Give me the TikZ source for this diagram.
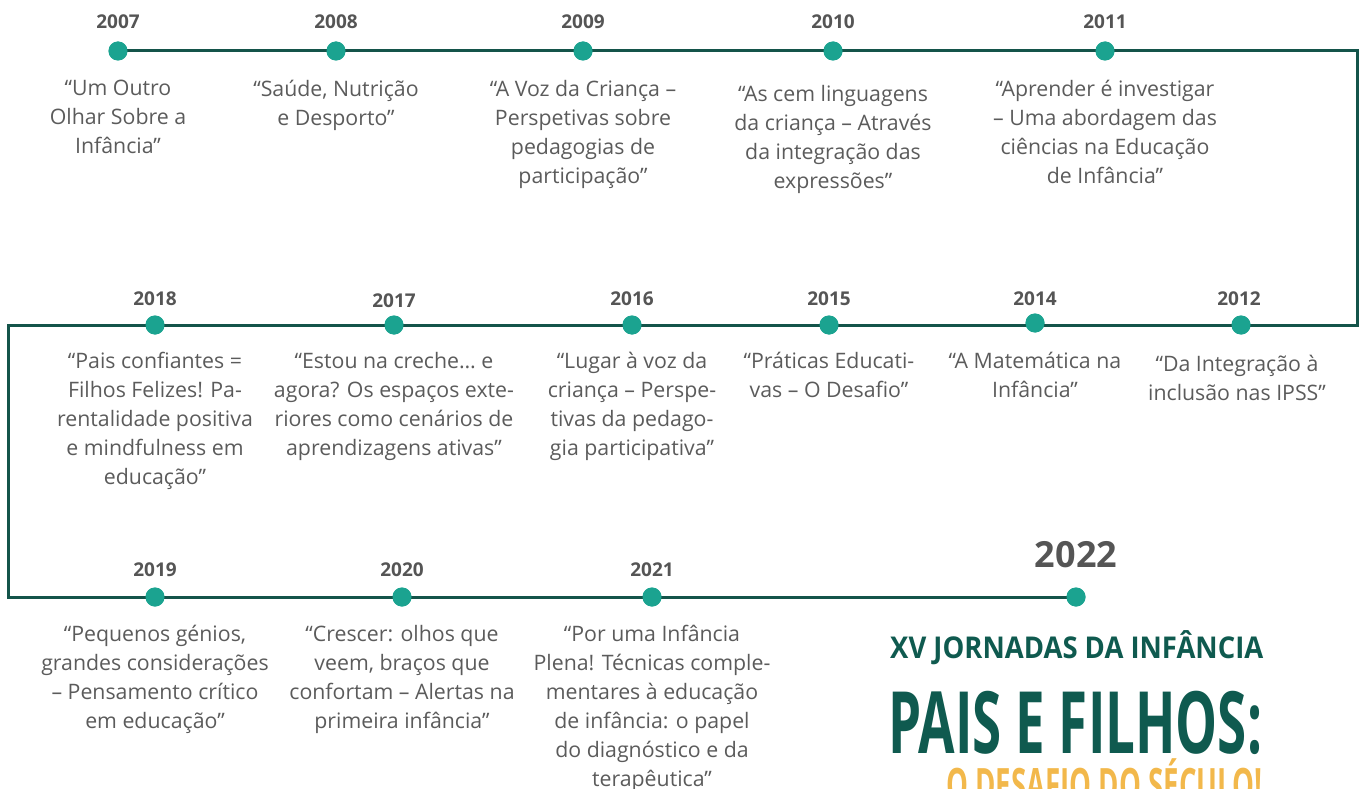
\documentclass[tikz,border=0pt]{standalone}
\usepackage{fontspec}
\setmainfont{Open Sans}
\definecolor{linegreen}{HTML}{14544A}
\definecolor{dotteal}{HTML}{1BA390}
\definecolor{txtgrey}{HTML}{5B5B5B}
\definecolor{yeargrey}{HTML}{555555}
\definecolor{titlegreen}{HTML}{0F5A4F}
\definecolor{titleorange}{HTML}{F2B84B}
\begin{document}
\begin{tikzpicture}[x=1pt,y=-1pt,
  dot/.style={circle,fill=dotteal,minimum size=19pt,inner sep=0pt},
  yr/.style={font=\fontsize{19}{22}\selectfont\bfseries,text=yeargrey,inner sep=0pt},
  desc/.style={font=\fontsize{21.3}{29}\selectfont,text=txtgrey,align=center,inner sep=0pt,anchor=north},
  tl/.style={line width=3pt,draw=linegreen}]
\useasboundingbox (0,0) rectangle (1360,789);
\clip (0,0) rectangle (1360,789);
% corners
\coordinate (c1) at (1357,51);
\coordinate (c2) at (1357,325);
\coordinate (c3) at (8,325);
\coordinate (c4) at (8,597);
% dots
\node[dot] (d2007) at (118,51) {};
\node[dot] (d2008) at (336,51) {};
\node[dot] (d2009) at (583,51) {};
\node[dot] (d2010) at (833,51) {};
\node[dot] (d2011) at (1105,51) {};
\node[dot] (d2012) at (1241,325) {};
\node[dot] (d2014) at (1035,323) {};
\node[dot] (d2015) at (829,325) {};
\node[dot] (d2016) at (632,325) {};
\node[dot] (d2017) at (394,325) {};
\node[dot] (d2018) at (155,325) {};
\node[dot] (d2019) at (155,597) {};
\node[dot] (d2020) at (402,597) {};
\node[dot] (d2021) at (652,597) {};
\node[dot] (d2022) at (1076,597) {};
% line
\draw[tl] (d2007.center) -- (c1) -- (c2) -- (c3) -- (c4) -- (d2022.center);
% redraw dots on top
\foreach \n in {2007,2008,2009,2010,2011,2012,2014,2015,2016,2017,2018,2019,2020,2021,2022}
  \fill[dotteal] (d\n.center) circle (9.5pt);
% years
\node[yr] (y2007) at (118,22) {2007};
\node[yr] (y2008) at (336,22) {2008};
\node[yr] (y2009) at (583,22) {2009};
\node[yr] (y2010) at (833,22) {2010};
\node[yr] (y2011) at (1105,22) {2011};
\node[yr] (y2018) at (155,299) {2018};
\node[yr] (y2017) at (394,301) {2017};
\node[yr] (y2016) at (632,299) {2016};
\node[yr] (y2015) at (829,299) {2015};
\node[yr] (y2014) at (1035,299) {2014};
\node[yr] (y2012) at (1239,299) {2012};
\node[yr] (y2019) at (155,570) {2019};
\node[yr] (y2020) at (402,570) {2020};
\node[yr] (y2021) at (652,570) {2021};
\node[font=\fontsize{36}{40}\selectfont\bfseries,text=yeargrey,inner sep=0pt] (y2022) at (1076,555) {2022};
% descriptions
\node[desc] (t2007) at (118,80) {“Um Outro\\Olhar Sobre a\\Infância”};
\node[desc] (t2008) at (336,80) {“Saúde, Nutrição\\e Desporto”};
\node[desc] (t2009) at (583,80) {“A Voz da Criança –\\Perspetivas sobre\\pedagogias de\\participação”};
\node[desc] (t2010) at (833,85) {“As cem linguagens\\da criança – Através\\da integração das\\expressões”};
\node[desc] (t2011) at (1105,80) {“Aprender é investigar\\– Uma abordagem das\\ciências na Educação\\de Infância”};
\node[desc] (t2018) at (155,352) {“Pais confiantes =\\Filhos Felizes! Pa-\\rentalidade positiva\\e mindfulness em\\educação”};
\node[desc] (t2017) at (394,352) {“Estou na creche… e\\agora? Os espaços exte-\\riores como cenários de\\aprendizagens ativas”};
\node[desc] (t2016) at (632,352) {“Lugar à voz da\\criança – Perspe-\\tivas da pedago-\\gia participativa”};
\node[desc] (t2015) at (829,352) {“Práticas Educati-\\vas – O Desafio”};
\node[desc] (t2014) at (1035,352) {“A Matemática na\\Infância”};
\node[desc] (t2012) at (1237,355) {“Da Integração à\\inclusão nas IPSS”};
\node[desc] (t2019) at (155,625) {“Pequenos génios,\\grandes considerações\\– Pensamento crítico\\em educação”};
\node[desc] (t2020) at (402,625) {“Crescer: olhos que\\veem, braços que\\confortam – Alertas na\\primeira infância”};
\node[desc] (t2021) at (652,625) {“Por uma Infância\\Plena! Técnicas comple-\\mentares à educação\\de infância: o papel\\do diagnóstico e da\\terapêutica”};
% title
\node[anchor=west,inner sep=0pt,text=titlegreen,font=\fontsize{30}{30}\selectfont\bfseries] (ttl1) at (890,648) {\scalebox{0.915}[1]{XV JORNADAS DA INFÂNCIA}};
\node[anchor=base west,inner sep=0pt,text depth=0pt,text=titlegreen,font=\fontsize{86}{86}\selectfont\bfseries] (ttl2) at (888,753) {\scalebox{0.615}[1]{PAIS E FILHOS:}};
\node[anchor=base west,inner sep=0pt,text height=34pt,text=titleorange,font=\fontsize{46}{46}\selectfont\bfseries] (ttl3) at (946,801) {\scalebox{0.6}[1]{O DESAFIO DO SÉCULO!}};
\end{tikzpicture}
\end{document}
